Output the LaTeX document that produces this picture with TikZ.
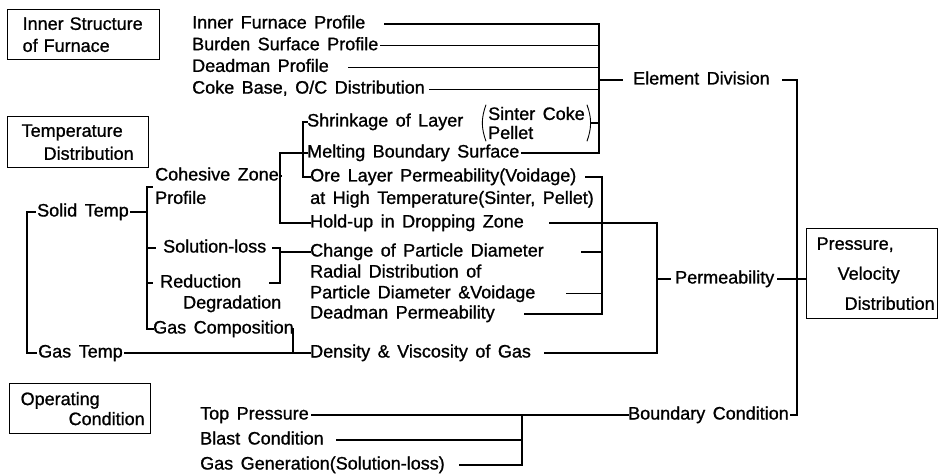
\documentclass[tikz,border=0pt]{standalone}
\usepackage{fontspec}
\setmainfont{Liberation Sans}[WordSpace=1.5, FakeBold=1]
\usepackage{tikz}
\usetikzlibrary{positioning}

\begin{document}
\begin{tikzpicture}[x=1pt, y=-1pt,
    item/.style={anchor=west, inner sep=0pt, text height=13pt, text depth=4pt,
                 font=\fontsize{18}{22}\selectfont},
    catbox/.style={draw, line width=1.3pt, anchor=north west, inner ysep=0pt,
                   align=left, font=\fontsize{18}{22}\selectfont},
    link/.style={line width=1.1pt, line cap=rect},
    paren/.style={line width=0.9pt}
]
\useasboundingbox (0,0) rectangle (938,476);

% category boxes
\node[catbox, minimum width=152pt, minimum height=50pt, text width=122pt, inner xsep=15pt] (boxfur) at (7,9) {\mbox{Inner Structure}\\\mbox{of Furnace}};
\node[catbox, minimum width=141pt, minimum height=51pt, text width=113pt, inner xsep=14pt] (boxtemp) at (7,116) {\mbox{Temperature}\\[1pt]\hspace*{22pt}\mbox{Distribution}};
\node[catbox, minimum width=141pt, minimum height=50pt, text width=119pt, inner xsep=11pt] (boxop) at (9,383) {\mbox{Operating}\\[-2pt]\hspace*{48pt}\mbox{Condition}};
\node[catbox, minimum width=131pt, minimum height=90pt, text width=111pt, inner xsep=10pt] (boxpv) at (806,228) {\mbox{Pressure,}\\[8pt]\hspace*{21pt}\mbox{Velocity}\\[8pt]\hspace*{28pt}\mbox{Distribution}};

% furnace profile items
\node[item] (tIFP) at (192,24) {Inner Furnace Profile};
\node[item, below=4.3pt of tIFP.south west, anchor=north west] (tBSP) {Burden Surface Profile};
\node[item, below=4.3pt of tBSP.south west, anchor=north west] (tDP) {Deadman Profile};
\node[item, below=4.3pt of tDP.south west, anchor=north west] (tCB) {Coke Base, O/C Distribution};

% cohesive zone items
\node[item] (shrink) at (307,122) {Shrinkage of Layer};
\node[anchor=west, inner xsep=6pt, inner ysep=2pt, align=left,
      font=\fontsize{18}{19}\selectfont] (sinter) at (482,123) {Sinter Coke\\Pellet};
\node[item] (melt) at (307,153) {Melting Boundary Surface};
\node[item] (ore) at (310,177) {Ore Layer Permeability(Voidage)};
\node[item, below=5pt of ore.south west, anchor=north west] (high) {at High Temperature(Sinter, Pellet)};
\node[item] (hold) at (310,223) {Hold-up in Dropping Zone};
\node[item] (change) at (310,252) {Change of Particle Diameter};
\node[item] (radial) at (310,273) {Radial Distribution of};
\node[item, below=3.5pt of radial.south west, anchor=north west] (pdv) {Particle Diameter \&Voidage};
\node[item] (dmperm) at (310,314) {Deadman Permeability};
\node[item] (dens) at (310,353) {Density \& Viscosity of Gas};

% temperature items
\node[item] (solid) at (37,212) {Solid Temp};
\node[item] (coh) at (155,176) {Cohesive Zone};
\node[item, below=6pt of coh.south west, anchor=north west] (cohp) {Profile};
\node[item] (sol) at (163,248) {Solution-loss};
\node[item] (red) at (160,283) {Reduction};
\node[item] (deg) at (183,304) {Degradation};
\node[item] (gcomp) at (153,329) {Gas Composition};
\node[item] (gtemp) at (38,353) {Gas Temp};

% operating items
\node[item] (toppr) at (200,415) {Top Pressure};
\node[item] (blast) at (200,440) {Blast Condition};
\node[item] (gasgen) at (200,465) {Gas Generation(Solution-loss)};

% results
\node[item] (elem) at (633,80) {Element Division};
\node[item] (perm) at (675,279) {Permeability};
\node[item] (bound) at (628,415) {Boundary Condition};

% bars
\coordinate (edbar) at (599,0);
\coordinate (mainbar) at (797,0);
\coordinate (orebar) at (303,0);
\coordinate (cohbar) at (280,0);
\coordinate (collbar) at (602,0);
\coordinate (permbar) at (657,0);
\coordinate (bcbar) at (522,0);
\coordinate (tbar) at (27,0);
\coordinate (sbar) at (147,0);
\coordinate (gcbar) at (293,0);
\coordinate (cohtick) at (152,187);

% parentheses round Sinter Coke / Pellet
\draw[paren] ([xshift=4pt]sinter.north west) to[bend right=20] ([xshift=4pt]sinter.south west);
\draw[paren] ([xshift=-4pt]sinter.north east) to[bend left=20] ([xshift=-4pt]sinter.south east);

% element division
\draw[link, shorten <=19pt, shorten >=2pt] (tIFP.east) -- (tIFP.east -| edbar) |- (melt.east);
\draw[link, shorten <=2pt] (tBSP.east) -- (tBSP.east -| edbar);
\draw[link, shorten <=20pt] (tDP.east) -- (tDP.east -| edbar);
\draw[link, shorten <=5pt] (tCB.east) -- (tCB.east -| edbar);
\draw[link] (sinter.east) -- (sinter.east -| edbar);
\draw[link, shorten >=11pt] (elem.west -| edbar) -- (elem.west);
\draw[link, shorten <=13pt, shorten >=2pt] (elem.east) -- (elem.east -| mainbar) |- (bound.east);

% cohesive zone
\draw[link] (shrink.west) -- (shrink.west -| orebar) |- (ore.west);
\draw[link] (melt.west) -- (melt.west -| cohbar) |- (hold.west);
\draw[link, shorten <=2pt] (coh.east) -- (coh.east -| cohbar);

% permeability
\draw[link, shorten <=9pt, shorten >=30pt] (ore.east) -- (ore.east -| collbar) |- (dmperm.east);
\draw[link, shorten <=38pt] (change.east) -- (change.east -| collbar);
\draw[link, shorten <=31pt] (pdv.east) -- (pdv.east -| collbar);
\draw[link, shorten <=26pt, shorten >=13pt] (hold.east) -- (hold.east -| permbar) |- (dens.east);
\draw[link, shorten >=5pt] (perm.west -| permbar) -- (perm.west);
\draw[link, shorten <=3pt] (perm.east) -- (perm.east -| boxpv.west);

% temperature
\draw[link, shorten <=2pt, shorten >=2pt] (solid.west) -- (solid.west -| tbar) |- (gtemp.west);
\draw[link, shorten <=2pt] (solid.east) -- (solid.east -| sbar);
\draw[link] (cohtick) -- (cohtick -| sbar) |- (gcomp.west);
\draw[link, shorten >=8pt] (sol.west -| sbar) -- (sol.west);
\draw[link, shorten >=8pt] (red.west -| sbar) -- (red.west);
\draw[link, shorten <=6pt, shorten >=28pt] (sol.east) -- (sol.east -| cohbar) |- (red.east);
\draw[link] (change.west -| cohbar) -- (change.west);
\draw[link, shorten <=2pt] (gcomp.east) -- (gcomp.east -| gcbar) |- (dens.west);
\draw[link, shorten <=2pt] (gtemp.east) -- (dens.west);

% boundary condition
\draw[link, shorten <=3pt] (toppr.east) -- (bound.west);
\draw[link, shorten <=13pt] (blast.east) -- (blast.east -| bcbar);
\draw[link, shorten <=15pt] (gasgen.east) -- (gasgen.east -| bcbar);
\draw[link] (toppr.east -| bcbar) -- (gasgen.east -| bcbar);
\end{tikzpicture}
\end{document}
